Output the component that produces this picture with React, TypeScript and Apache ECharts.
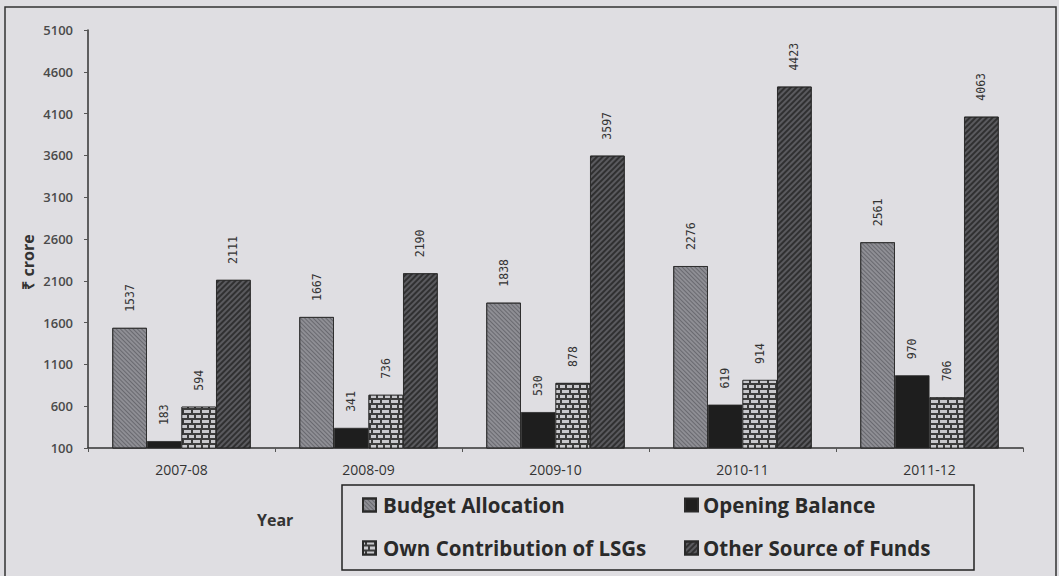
import React, { useEffect, useRef } from "react";
import * as echarts from "echarts";

const years = ["2007-08", "2008-09", "2009-10", "2010-11", "2011-12"];
const budgetAllocation = [1537, 1667, 1838, 2276, 2561];
const openingBalance = [183, 341, 530, 619, 970];
const ownContribution = [594, 736, 878, 914, 706];
const otherSources = [2111, 2190, 3597, 4423, 4063];
const yTicks = { min: 100, max: 5100, interval: 500 };

const labelStyle = {
  show: true,
  position: "top" as const,
  rotate: 90,
  align: "left" as const,
  verticalAlign: "middle" as const,
  distance: 16,
  fontFamily: "DejaVu Sans Mono",
  fontSize: 11.5,
  color: "#333",
};

const legendText = {
  fontSize: 20.5,
  lineHeight: 24,
  fontWeight: "bold" as const,
  color: "#2a2a2a",
  fontFamily: "Open Sans",
};

export default function App() {
  const ref = useRef<HTMLDivElement>(null);
  useEffect(() => {
    document.body.style.margin = "0";
    const chart = echarts.init(ref.current!, null, { renderer: "svg" });
    const mk = (name: string, data: number[], color: string, decal: any) => ({
      name,
      type: "bar",
      data,
      barGap: "0%",
      barCategoryGap: "26%",
      itemStyle: { color, borderColor: "#2a2a2a", borderWidth: 0.8, decal },
      label: labelStyle,
    });
    chart.setOption({
      animation: false,
      backgroundColor: "#dfdee2",
      textStyle: { fontFamily: "Open Sans" },
      grid: { left: 88, right: 36, top: 30, bottom: 128 },
      xAxis: {
        type: "category",
        data: years,
        axisLine: { lineStyle: { color: "#333", width: 1.5 } },
        axisTick: { show: true, length: 4, lineStyle: { color: "#555" } },
        axisLabel: { color: "#333", fontSize: 14, margin: 14, fontFamily: "Open Sans" },
      },
      yAxis: {
        type: "value",
        min: yTicks.min,
        max: yTicks.max,
        interval: yTicks.interval,
        axisLine: { show: true, lineStyle: { color: "#333", width: 1.5 } },
        axisTick: { show: true, length: 4, lineStyle: { color: "#555" } },
        splitLine: { show: false },
        axisLabel: {
          color: "#4a4a4a",
          fontSize: 13,
          fontWeight: 600,
          margin: 15,
          fontFamily: "Open Sans",
          formatter: (v: number) => String(v),
        },
      },
      legend: [
        {
          data: ["Budget Allocation", "Own Contribution of LSGs"],
          orient: "vertical",
          left: 362,
          top: 493,
          padding: 0,
          itemGap: 19,
          itemWidth: 13,
          itemHeight: 13,
          icon: "rect",
          textStyle: { ...legendText, padding: [0, 0, 0, 2] },
        },
        {
          data: ["Opening Balance", "Other Source of Funds"],
          orient: "vertical",
          left: 684,
          top: 493,
          padding: 0,
          itemGap: 19,
          itemWidth: 13,
          itemHeight: 13,
          icon: "rect",
          textStyle: legendText,
        },
      ],
      graphic: [
        {
          type: "rect",
          shape: { x: 5, y: 7, width: 1051, height: 590 },
          style: { fill: "none", stroke: "#333", lineWidth: 1.5 },
          silent: true,
        },
        {
          type: "rect",
          shape: { x: 342, y: 485, width: 632, height: 85 },
          style: { fill: "none", stroke: "#222", lineWidth: 1.5 },
          silent: true,
        },
        {
          type: "text",
          x: 257,
          y: 520,
          style: {
            text: "Year",
            fontSize: 16,
            fontWeight: "bold",
            fill: "#333",
            fontFamily: "Open Sans",
            verticalAlign: "middle",
          },
        },
        {
          type: "text",
          x: 28,
          y: 262,
          rotation: Math.PI / 2,
          style: {
            text: "₹ crore",
            fontSize: 16,
            fontWeight: "bold",
            fill: "#333",
            fontFamily: "Open Sans",
            align: "center",
            verticalAlign: "middle",
          },
        },
      ],
      series: [
        mk("Budget Allocation", budgetAllocation, "#8e8e94", {
          symbol: "rect",
          symbolSize: 1,
          color: "rgba(60,60,66,0.45)",
          dashArrayX: [1, 0],
          dashArrayY: [1, 2],
          rotation: Math.PI / 4,
        }),
        mk("Opening Balance", openingBalance, "#1e1e1e", null),
        mk("Own Contribution of LSGs", ownContribution, "#3c3c3c", {
          symbol: "rect",
          symbolSize: 1,
          color: "#c8c8cc",
          dashArrayX: [[5, 2], [2, 2, 5, 0]],
          dashArrayY: [3, 2],
          rotation: 0,
        }),
        mk("Other Source of Funds", otherSources, "#5a5a5e", {
          symbol: "rect",
          symbolSize: 1,
          color: "rgba(30,30,30,0.7)",
          dashArrayX: [1, 0],
          dashArrayY: [2, 2],
          rotation: -Math.PI / 4,
        }),
      ],
    });
    return () => chart.dispose();
  }, []);
  return <div ref={ref} style={{ width: 1059, height: 576 }} />;
}
